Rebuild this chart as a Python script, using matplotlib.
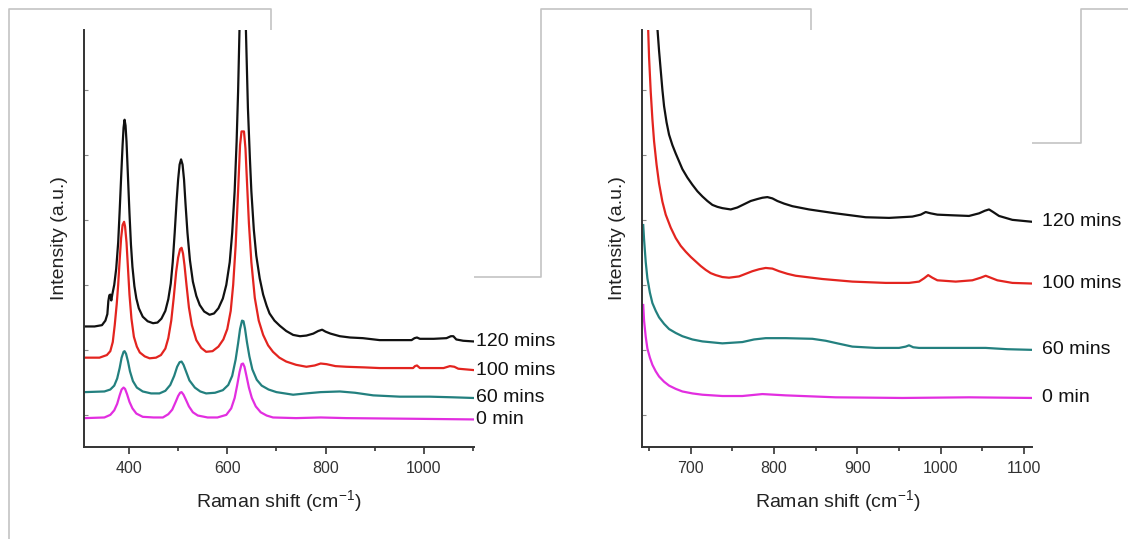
import matplotlib.pyplot as plt
from matplotlib.lines import Line2D

plt.rcParams["font.family"] = ["Liberation Sans", "DejaVu Sans"]

labels = ["120 mins", "100 mins", "60 mins", "0 min"]
colors = ["#111111", "#e3241f", "#23807f", "#e22ee0"]

# left panel: 300-1100 cm-1
left_x_120 = [310, 330, 345, 352, 356, 358, 360, 362, 364, 366, 370, 374, 378, 381, 384, 387, 389,
              391, 393, 395, 398, 401, 404, 407, 411, 415, 420, 428, 438, 449, 458, 466, 474, 480,
              485, 489, 493, 497, 500, 503, 506, 509, 512, 515, 519, 524, 530, 537, 544, 553, 564,
              573, 582, 591, 598, 605, 610, 615, 619, 622, 626, 631, 636, 639, 642, 646, 649, 654,
              659, 666, 673, 680, 686, 696, 707, 720, 734, 748, 761, 775, 785, 793, 800, 810, 829,
              850, 876, 910, 950, 975, 981, 986, 992, 1020, 1046, 1055, 1060, 1066, 1080, 1100]
left_y_120 = [1.36, 1.36, 1.38, 1.45, 1.55, 1.75, 1.84, 1.85, 1.76, 1.85, 2.0, 2.25, 2.65, 3.13,
              3.65, 4.15, 4.42, 4.54, 4.45, 4.2, 3.65, 3.10, 2.62, 2.28, 1.98, 1.79, 1.64, 1.51,
              1.44, 1.41, 1.42, 1.48, 1.60, 1.78, 2.02, 2.35, 2.80, 3.30, 3.62, 3.85, 3.93, 3.85,
              3.62, 3.25, 2.80, 2.38, 2.05, 1.83, 1.69, 1.59, 1.54, 1.56, 1.64, 1.79, 2.0, 2.35,
              2.8, 3.44, 4.2, 4.97, 6.3, 7.4, 6.5, 5.6, 4.72, 3.95, 3.44, 2.85, 2.45, 2.1, 1.85,
              1.68, 1.56, 1.45, 1.37, 1.29, 1.23, 1.21, 1.22, 1.25, 1.29, 1.31, 1.28, 1.25, 1.21,
              1.19, 1.18, 1.15, 1.15, 1.15, 1.18, 1.19, 1.17, 1.17, 1.18, 1.21, 1.21, 1.16, 1.14,
              1.13]

left_x_100 = [310, 340, 355, 362, 367, 371, 375, 378, 381, 384, 387, 390, 392, 395, 398, 401, 405,
              410, 416, 422, 432, 442, 455, 465, 474, 480, 486, 491, 496, 500, 504, 507, 510, 513,
              517, 522, 528, 537, 547, 557, 570, 582, 592, 600, 607, 612, 617, 622, 626, 629, 634,
              637, 640, 644, 649, 656, 664, 673, 683, 693, 706, 720, 740, 761, 778, 790, 802, 820,
              842, 880, 910, 978, 982, 986, 992, 1040, 1053, 1062, 1070, 1100]
left_y_100 = [0.88, 0.88, 0.92, 0.98, 1.12, 1.38, 1.7, 2.0, 2.38, 2.72, 2.92, 2.97, 2.9, 2.65,
              2.25, 1.85, 1.48, 1.2, 1.05, 0.96, 0.9, 0.87, 0.88, 0.92, 1.02, 1.18, 1.45, 1.8, 2.2,
              2.42, 2.55, 2.57, 2.48, 2.3, 2.0, 1.65, 1.38, 1.15, 1.03, 0.97, 0.98, 1.05, 1.16,
              1.32, 1.6, 2.0, 2.6, 3.44, 4.15, 4.36, 4.36, 4.1, 3.6, 2.95, 2.35, 1.8, 1.45, 1.23,
              1.07, 0.97, 0.88, 0.82, 0.77, 0.74, 0.76, 0.79, 0.78, 0.75, 0.74, 0.73, 0.72, 0.72,
              0.75, 0.76, 0.72, 0.72, 0.75, 0.74, 0.71, 0.69]

left_x_60 = [310, 350, 362, 370, 376, 381, 385, 389, 391, 394, 398, 402, 408, 416, 428, 445, 462,
             474, 484, 492, 498, 503, 507, 511, 516, 523, 534, 545, 557, 575, 591, 602, 610, 617,
             622, 626, 630, 633, 636, 640, 645, 651, 660, 670, 684, 700, 734, 760, 790, 829, 860,
             897, 951, 1012, 1060, 1100]
left_y_60 = [0.35, 0.36, 0.39, 0.45, 0.56, 0.72, 0.88, 0.97, 0.98, 0.94, 0.82, 0.67, 0.52, 0.42,
             0.36, 0.33, 0.33, 0.37, 0.46, 0.6, 0.74, 0.81, 0.82, 0.77, 0.67, 0.53, 0.42, 0.36,
             0.33, 0.34, 0.38, 0.46, 0.6, 0.85, 1.1, 1.32, 1.45, 1.44, 1.33, 1.12, 0.9, 0.7, 0.54,
             0.45, 0.39, 0.35, 0.31, 0.33, 0.35, 0.36, 0.34, 0.30, 0.28, 0.28, 0.27, 0.26]

left_x_0 = [310, 350, 362, 370, 376, 381, 385, 389, 392, 396, 401, 407, 415, 428, 450, 469, 480,
            488, 495, 500, 504, 507, 511, 516, 522, 530, 540, 560, 580, 598, 608, 615, 620, 625,
            629, 632, 635, 639, 644, 650, 658, 668, 680, 693, 740, 790, 842, 978, 1100]
left_y_0 = [-0.05, -0.04, 0.0, 0.07, 0.17, 0.30, 0.39, 0.42, 0.40, 0.32, 0.2, 0.1, 0.02, -0.03,
            -0.04, -0.04, 0.01, 0.08, 0.2, 0.29, 0.34, 0.35, 0.31, 0.23, 0.13, 0.04, -0.01, -0.04,
            -0.04, 0.0, 0.1, 0.26, 0.45, 0.66, 0.78, 0.79, 0.74, 0.6, 0.42, 0.26, 0.13, 0.04,
            -0.01, -0.04, -0.05, -0.04, -0.05, -0.06, -0.07]

# right panel: 650-1100 cm-1
right_x_120 = [658, 660, 662, 664, 666, 668, 671, 674, 678, 682, 686, 690, 696, 702, 708, 714, 720,
               726, 732, 738, 748, 756, 764, 772, 780, 786, 792, 798, 804, 812, 822, 842, 874, 910,
               938, 966, 976, 982, 988, 996, 1014, 1034, 1046, 1053, 1058, 1063, 1070, 1086, 1110]
right_y_120 = [6.3, 5.95, 5.6, 5.3, 5.0, 4.75, 4.5, 4.31, 4.15, 4.02, 3.9, 3.78, 3.65, 3.54, 3.44,
               3.36, 3.29, 3.23, 3.2, 3.18, 3.16, 3.19, 3.24, 3.29, 3.32, 3.34, 3.35, 3.33, 3.29,
               3.25, 3.21, 3.16, 3.10, 3.04, 3.03, 3.05, 3.08, 3.12, 3.10, 3.08, 3.07, 3.06, 3.10,
               3.14, 3.16, 3.12, 3.06, 3.0, 2.97]

right_x_100 = [648, 650, 652, 654, 656, 659, 662, 666, 670, 676, 682, 688, 694, 700, 706, 712, 718,
               724, 730, 738, 746, 758, 766, 774, 782, 790, 798, 806, 816, 826, 858, 894, 934, 962,
               974, 980, 985, 990, 996, 1018, 1038, 1048, 1054, 1060, 1068, 1086, 1110]
right_y_100 = [6.3, 5.5, 4.97, 4.55, 4.21, 3.85, 3.56, 3.28, 3.08, 2.88, 2.72, 2.6, 2.51, 2.43,
               2.36, 2.29, 2.23, 2.18, 2.15, 2.12, 2.11, 2.13, 2.17, 2.21, 2.24, 2.26, 2.25, 2.21,
               2.17, 2.14, 2.09, 2.05, 2.03, 2.03, 2.05, 2.1, 2.15, 2.11, 2.07, 2.05, 2.07, 2.11,
               2.14, 2.11, 2.07, 2.03, 2.02]

right_x_60 = [643, 644, 646, 648, 651, 654, 658, 662, 668, 674, 682, 690, 702, 714, 738, 762, 776,
              790, 814, 846, 862, 876, 894, 922, 950, 958, 962, 967, 974, 1014, 1054, 1080, 1110]
right_y_60 = [2.92, 2.7, 2.35, 2.1, 1.88, 1.72, 1.6, 1.5, 1.4, 1.32, 1.26, 1.21, 1.16, 1.13, 1.10,
              1.12, 1.16, 1.18, 1.18, 1.17, 1.14, 1.10, 1.05, 1.03, 1.03, 1.05, 1.07, 1.04, 1.03,
              1.03, 1.03, 1.01, 1.0]

right_x_0 = [643, 644, 646, 648, 651, 654, 658, 662, 668, 674, 682, 690, 702, 714, 738, 762, 786,
             800, 814, 874, 954, 1034, 1110]
right_y_0 = [1.69, 1.45, 1.2, 1.02, 0.88, 0.77, 0.67, 0.59, 0.51, 0.45, 0.40, 0.36, 0.33, 0.31,
             0.29, 0.29, 0.32, 0.31, 0.30, 0.27, 0.26, 0.27, 0.26]

left_series = [(left_x_120, left_y_120), (left_x_100, left_y_100),
               (left_x_60, left_y_60), (left_x_0, left_y_0)]
right_series = [(right_x_120, right_y_120), (right_x_100, right_y_100),
                (right_x_60, right_y_60), (right_x_0, right_y_0)]

fig = plt.figure(figsize=(11.28, 5.39), dpi=100)
ax_l = fig.add_axes([0.0747, 0.1712, 0.3455, 0.7731])
ax_r = fig.add_axes([0.5695, 0.1712, 0.3457, 0.7731])

# screenshot frame lines (pixels -> figure fraction)
frame_x = [8.6, 8.6, 270.7, 270.7, 540.7, 540.7, 810.7, 810.7, 1080.7, 1080.7, 1128]
frame_y = [539, 9.3, 9.3, 277, 277, 9.3, 9.3, 142.7, 142.7, 9.3, 9.3]
fig.add_artist(Line2D([v / 1128 for v in frame_x], [1 - v / 539 for v in frame_y],
                      color="#c4c4c4", lw=1.2, transform=fig.transFigure, zorder=0))


def style_axes(ax, xlim, major, minor):
    ax.set_xlim(*xlim)
    ax.set_ylim(-0.49, 5.92)
    for side in ["top", "right"]:
        ax.spines[side].set_visible(False)
    for side in ["left", "bottom"]:
        ax.spines[side].set_color("#333333")
        ax.spines[side].set_linewidth(1.4)
    ax.set_xticks(major)
    ax.set_xticks(minor, minor=True)
    ax.set_yticks([0, 1, 2, 3, 4, 5])
    ax.set_yticklabels([])
    ax.tick_params(axis="x", which="major", direction="out", length=5, width=1.2,
                   color="#333333", labelsize=11.5, labelcolor="#333333", pad=5)
    ax.tick_params(axis="x", which="minor", direction="out", length=3, width=1.2,
                   color="#333333")
    ax.tick_params(axis="y", direction="in", length=3, width=0.8, color="#888888")
    ax.set_xlabel("Raman shift (cm$^{\\mathregular{-1}}$)", fontsize=14, color="#222222",
                  labelpad=9)
    ax.set_ylabel("Intensity (a.u.)", fontsize=14, color="#222222", labelpad=8)


style_axes(ax_l, (309, 1102), [400, 600, 800, 1000], [500, 700, 900, 1100])
style_axes(ax_r, (642, 1110), [700, 800, 900, 1000, 1100], [650, 750, 850, 950, 1050])

for (xs, ys), color, label in zip(left_series, colors, labels):
    ax_l.plot(xs, ys, color=color, lw=1.6)
    ax_l.text(1106, ys[-1], label, color="#111111", fontsize=14, ha="left", va="center",
              clip_on=False)

for (xs, ys), color, label in zip(right_series, colors, labels):
    ax_r.plot(xs, ys, color=color, lw=1.6)
    ax_r.text(1121, ys[-1], label, color="#111111", fontsize=14, ha="left", va="center",
              clip_on=False)

fig.savefig("out.png", dpi=100)
